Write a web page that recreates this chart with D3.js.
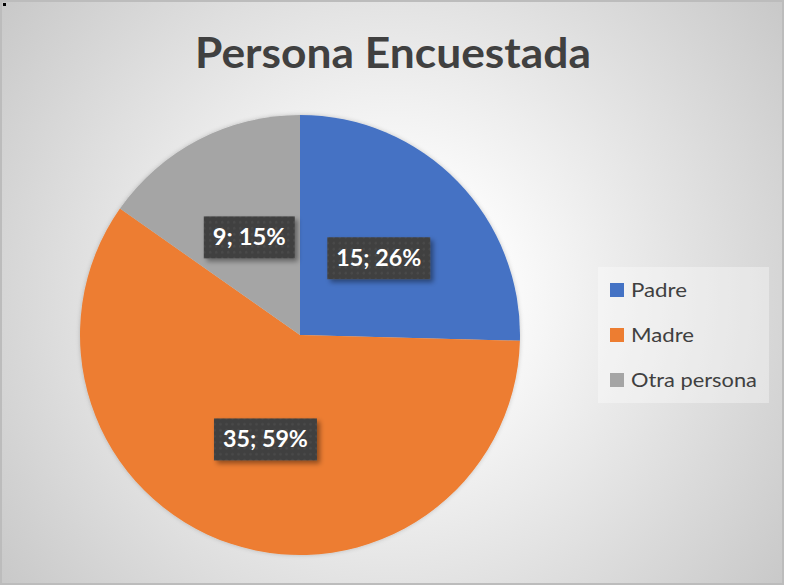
<!DOCTYPE html>
<html>
<head>
<meta charset="utf-8">
<script src="https://cdn.jsdelivr.net/npm/d3@7"></script>
<style>
html,body{margin:0;padding:0;background:#fff;}
svg{display:block;}
</style>
</head>
<body>
<script>
const categories = ["Padre", "Madre", "Otra persona"];
const values = [15, 35, 9];
const percentLabels = ["26%", "59%", "15%"];
const colors = ["#4472C4", "#ED7D31", "#A5A5A5"];
const title = "Persona Encuestada";

const W = 785, H = 586;
const svg = d3.select("body").append("svg").attr("width", W).attr("height", H);
const defs = svg.append("defs");

const rg = defs.append("radialGradient").attr("id", "bg")
  .attr("gradientUnits", "userSpaceOnUse")
  .attr("cx", 392).attr("cy", 293).attr("r", 490);
rg.append("stop").attr("offset", "0").attr("stop-color", "#ffffff");
rg.append("stop").attr("offset", "0.25").attr("stop-color", "#fafafa");
rg.append("stop").attr("offset", "1").attr("stop-color", "#c8c8c8");

const pat = defs.append("pattern").attr("id", "dots")
  .attr("patternUnits", "userSpaceOnUse").attr("width", 6).attr("height", 6);
pat.append("rect").attr("width", 6).attr("height", 6).attr("fill", "#3f3f3f");
pat.append("circle").attr("cx", 3).attr("cy", 3).attr("r", 1.4).attr("fill", "#4a4a4a");

const sh = defs.append("filter").attr("id", "lblShadow").attr("x", "-20%").attr("y", "-20%").attr("width", "150%").attr("height", "160%");
sh.append("feDropShadow").attr("dx", 3).attr("dy", 3).attr("stdDeviation", 2.5)
  .attr("flood-color", "#000").attr("flood-opacity", 0.4);
const psh = defs.append("filter").attr("id", "pieShadow").attr("x", "-10%").attr("y", "-10%").attr("width", "120%").attr("height", "120%");
psh.append("feDropShadow").attr("dx", 0).attr("dy", 0).attr("stdDeviation", 2)
  .attr("flood-color", "#000").attr("flood-opacity", 0.2);

// background & border
svg.append("rect").attr("x", 0).attr("y", 0).attr("width", W).attr("height", H).attr("fill", "#ffffff");
svg.append("rect").attr("x", 1).attr("y", 1).attr("width", 782).attr("height", 583)
  .attr("fill", "url(#bg)").attr("stroke", "#bcbcbc").attr("stroke-width", 2);
svg.append("rect").attr("x", 3).attr("y", 3).attr("width", 3).attr("height", 3).attr("fill", "#000");

const fontFam = "Lato, 'Open Sans', sans-serif";
// draw text at (x,y) with given font size, squeezed horizontally to target width (Calibri-like)
function squeezed(parent, x, y, txt, size, target, anchor, attrs) {
  const g = parent.append("g");
  const t = g.append("text").attr("x", 0).attr("y", 0).attr("text-anchor", anchor)
    .attr("font-family", fontFam).attr("font-size", size).text(txt);
  Object.entries(attrs || {}).forEach(([k, v]) => t.attr(k, v));
  const w = t.node().getComputedTextLength();
  const sx = w > 0 ? target / w : 1;
  g.attr("transform", `translate(${x},${y}) scale(${sx},1)`);
  return g;
}

// title
squeezed(svg, 393, 68, title, 42, 396, "middle", {"font-weight": "bold", "fill": "#404040"});

// pie
const cx = 300, cy = 335, R = 220;
const pie = d3.pie().sort(null).value(d => d)(values);
const arc = d3.arc().innerRadius(0).outerRadius(R);
const g = svg.append("g").attr("transform", `translate(${cx},${cy})`);
g.append("g").attr("filter", "url(#pieShadow)").selectAll("path").data(pie).join("path")
  .attr("d", arc).attr("fill", (d, i) => colors[i]);

// data labels
const labelWidths = [85, 85, 73];
pie.forEach((d, i) => {
  const [lx, ly] = arc.centroid(d);
  const lg = g.append("g").attr("transform", `translate(${lx},${ly})`);
  const txt = `${values[i]}; ${percentLabels[i]}`;
  const bw = labelWidths[i] + 18, bh = 42;
  lg.append("rect").attr("x", -bw / 2).attr("y", -bh / 2).attr("width", bw).attr("height", bh)
    .attr("fill", "url(#dots)").attr("filter", "url(#lblShadow)");
  squeezed(lg, 0, 8, txt, 22, labelWidths[i], "middle", {"font-weight": "bold", "fill": "#ffffff"});
});

// legend
const leg = svg.append("g");
leg.append("rect").attr("x", 598).attr("y", 267).attr("width", 171).attr("height", 136)
  .attr("fill", "#ffffff").attr("fill-opacity", 0.35);
const ly = d3.scalePoint().domain(categories).range([290, 380]);
const legW = {"Padre": 56, "Madre": 63, "Otra persona": 126};
categories.forEach((c, i) => {
  leg.append("rect").attr("x", 610).attr("y", ly(c) - 7).attr("width", 14).attr("height", 14)
    .attr("fill", colors[i]);
  squeezed(leg, 631, ly(c) + 7, c, 19, legW[c], "start", {"fill": "#404040"});
});
</script>
</body>
</html>
